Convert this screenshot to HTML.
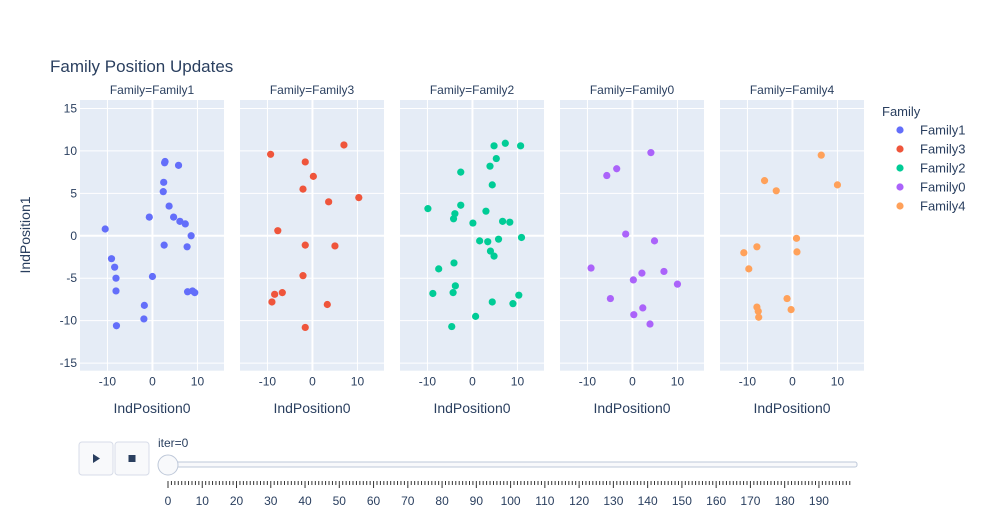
<!DOCTYPE html>
<html><head><meta charset="utf-8"><style>
body{margin:0;background:#fff;font-family:"Liberation Sans",sans-serif}
svg text{font-family:"Liberation Sans",sans-serif;fill:#2a3f5f}
</style></head><body>
<svg id="c" width="983" height="525" xmlns="http://www.w3.org/2000/svg">
<rect width="983" height="525" fill="#fff"/>
<text x="50" y="72" font-size="17">Family Position Updates</text>
<text transform="translate(30,235) rotate(-90)" text-anchor="middle" font-size="14">IndPosition1</text>
<g id="panels"></g>
<g id="legend"></g>
<g id="slider"></g>
</svg>
<script>
const families=["Family1","Family3","Family2","Family0","Family4"];
const colors=["#636efa","#EF553B","#00cc96","#ab63fa","#FFA15A"];
const f1x=[2.8,2.7,5.8,2.5,2.4,3.7,-0.7,4.7,6.1,7.3,-10.5,8.6,2.6,7.7,-9.1,-8.4,-8.1,0,-8.1,7.8,8.9,9.4,-1.8,-1.9,-8.0];
const f1y=[8.75,8.6,8.3,6.3,5.2,3.5,2.2,2.2,1.7,1.4,0.8,0,-1.1,-1.3,-2.7,-3.7,-5.0,-4.8,-6.5,-6.6,-6.5,-6.7,-8.2,-9.8,-10.6];
const f3x=[7.0,-9.3,-1.6,0.2,-2.1,3.6,10.3,-7.7,-1.6,5.0,-2.1,-6.7,-8.4,-9.0,3.3,-1.6];
const f3y=[10.7,9.6,8.7,7.0,5.5,4.0,4.5,0.6,-1.1,-1.2,-4.7,-6.7,-6.9,-7.8,-8.1,-10.8];
const f2x=[4.8,7.3,10.7,5.3,3.9,-2.6,4.4,-2.6,-9.9,-3.9,-4.2,3.0,0.1,6.7,8.3,1.6,3.4,5.8,10.9,4.0,4.8,-4.1,-7.5,-3.8,-8.8,-4.3,10.3,4.4,9.0,0.7,-4.6];
const f2y=[10.6,10.9,10.6,9.1,8.2,7.5,6.0,3.6,3.2,2.6,2.0,2.9,1.5,1.7,1.6,-0.6,-0.7,-0.4,-0.2,-1.8,-2.4,-3.2,-3.9,-5.9,-6.8,-6.7,-7.0,-7.8,-8.0,-9.5,-10.7];
const f0x=[4.1,-3.5,-5.7,-1.5,4.9,-9.2,2.1,7.0,0.2,10.0,-4.9,2.3,0.3,3.9];
const f0y=[9.8,7.9,7.1,0.2,-0.6,-3.8,-4.4,-4.2,-5.2,-5.7,-7.4,-8.5,-9.3,-10.4];
const f4x=[6.4,-6.2,-3.6,10.0,0.9,-7.9,-10.8,1.0,-9.7,-1.2,-0.3,-7.9,-7.6,-7.5];
const f4y=[9.5,6.5,5.3,6.0,-0.3,-1.3,-2.0,-1.9,-3.9,-7.4,-8.7,-8.4,-8.9,-9.6];
const xs=[f1x,f3x,f2x,f0x,f4x], ys=[f1y,f3y,f2y,f0y,f4y];
const xTicks=[-10,0,10], yTicks=[-15,-10,-5,0,5,10,15];
const NS="http://www.w3.org/2000/svg";
function mk(t,a,p){const e=document.createElementNS(NS,t);for(const k in a)e.setAttribute(k,a[k]);p.appendChild(e);return e;}
const X0=-16.1,X1=15.9,Y0=-15.9,Y1=16,PT=100,PB=370.7,PW=144;
const sy=v=>PB-(v-Y0)/(Y1-Y0)*(PB-PT);
const panels=document.getElementById('panels');
families.forEach((f,i)=>{
  const L=80+160*i, sx=v=>L+(v-X0)/(X1-X0)*PW;
  const g=mk('g',{},panels);
  
  
  mk('rect',{x:L,y:PT,width:PW,height:PB-PT,fill:'#e5ecf6'},g);
  yTicks.forEach(t=>{mk('line',{x1:L,x2:L+PW,y1:sy(t),y2:sy(t),stroke:'#fff','stroke-width':t===0?2:1},g);
    if(i===0){const tx=mk('text',{x:L-3,y:sy(t)+4,'text-anchor':'end','font-size':12},g);tx.textContent=t;
      }});
  xTicks.forEach(t=>{mk('line',{x1:sx(t),x2:sx(t),y1:PT,y2:PB,stroke:'#fff','stroke-width':t===0?2:1},g);
    const tx=mk('text',{x:sx(t),y:PB+15,'text-anchor':'middle','font-size':12},g);tx.textContent=t;
    });
  const st=mk('text',{x:L+PW/2,y:94,'text-anchor':'middle','font-size':12},g);st.textContent='Family='+f;
  
  const at=mk('text',{x:L+PW/2,y:413,'text-anchor':'middle','font-size':14},g);at.textContent='IndPosition0';
  
  xs[i].forEach((v,j)=>{const c=mk('circle',{cx:sx(v),cy:sy(ys[i][j]),r:3.6,fill:colors[i]},g);
    });
});
const lg=document.getElementById('legend');
const lt=mk('text',{x:882,y:116,'font-size':13},lg);lt.textContent='Family';

families.forEach((f,i)=>{const y=130+19*i;
  const e=mk('g',{},lg);
  mk('circle',{cx:900,cy:y,r:3.6,fill:colors[i]},e);
  const t=mk('text',{x:920,y:y+4.5,'font-size':13},e);t.textContent=f;});
const sl=document.getElementById('slider');
[[79,'play'],[115,'stop']].forEach(([x,n])=>{const b=mk('g',{},sl);
  
  mk('rect',{x:x,y:442,width:34,height:33,rx:3,fill:'#f8f9fb',stroke:'#d7dce8'},b);
  if(n==='play')mk('path',{d:'M93 454 L100 458.5 L93 463 Z',fill:'#2a3f5f'},b);
  else mk('rect',{x:128.5,y:455,width:7,height:7,fill:'#2a3f5f'},b);});
const it=mk('text',{x:158,y:447,'font-size':12},sl);it.textContent='iter=0';

mk('rect',{x:168,y:462,width:689,height:5,rx:2,fill:'#f8f9fb',stroke:'#bec8d9'},sl);
const step=3.426;
for(let k=0;k<200;k++){const x=168+k*step;mk('line',{x1:x,x2:x,y1:481,y2:k%10===0?488:485,stroke:'#333','stroke-width':1},sl);
  if(k%10===0){const t=mk('text',{x:x,y:505,'text-anchor':'middle','font-size':12},sl);t.textContent=k;
    }}
const h=mk('circle',{cx:168,cy:465,r:10,fill:'#f8f9fb',stroke:'#bec8d9'},sl);

</script>
</body></html>
